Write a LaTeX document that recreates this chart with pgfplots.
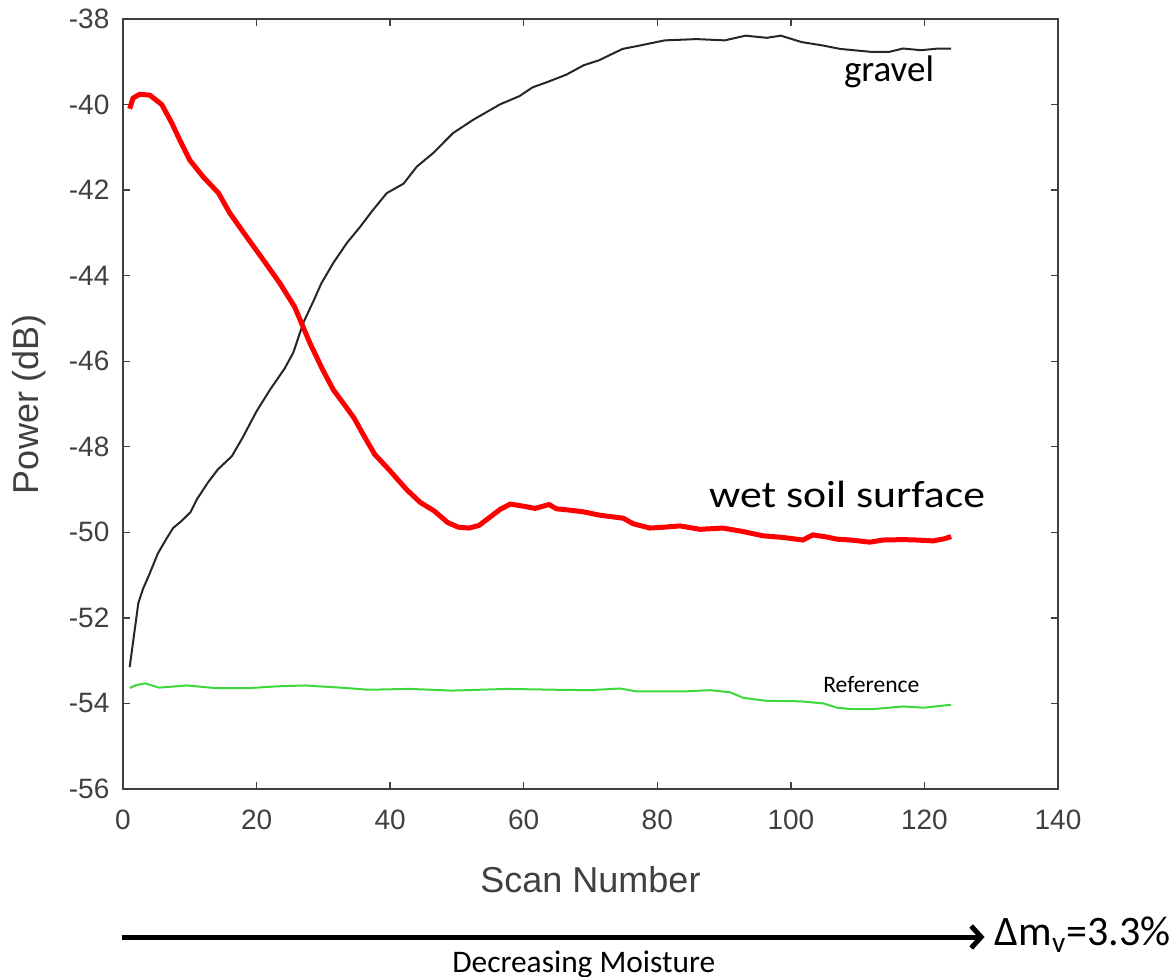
\documentclass[border=0pt]{standalone}
\usepackage{fontspec}
\setmainfont{Liberation Sans}
\newfontfamily\calibri{Carlito}
\usepackage{pgfplots}
\pgfplotsset{compat=1.18}
\usetikzlibrary{calc,arrows.meta}
\definecolor{axgray}{HTML}{404040}
\definecolor{refgreen}{HTML}{3CD83C}

\begin{document}
\begin{tikzpicture}
\begin{axis}[
    name=ax,
    scale only axis,
    width=467.5pt, height=385pt,
    xmin=0, xmax=140, ymin=-56, ymax=-38,
    xtick={0,20,...,140}, ytick={-56,-54,...,-38},
    tick align=inside,
    major tick length=3.5pt,
    axis line style={axgray, line width=0.7pt},
    tick style={axgray, line width=0.7pt},
    /pgf/number format/assume math mode=true,
    ticklabel style={font=\fontsize{14}{16}\selectfont, text=axgray},
    xticklabel style={yshift=-7pt},
    yticklabel style={xshift=-3.3pt},
    xlabel={Scan Number},
    ylabel={Power (dB)},
    label style={font=\fontsize{18}{20}\selectfont, text=axgray},
    xlabel style={at={(axis description cs:0.5,0)}, anchor=center, yshift=-45.5pt},
    ylabel style={at={(axis description cs:0,0.5)}, anchor=center, yshift=47pt},
    clip=false,
]
% gravel
\addplot[black!85, line width=1pt] coordinates {
(1,-53.15)(2.3,-51.65)(3,-51.32)(3.9,-51.0)(5.2,-50.5)(6.5,-50.15)(7.5,-49.9)
(8.8,-49.73)(10.1,-49.53)(11.1,-49.22)(12.7,-48.84)(14.2,-48.53)(16.3,-48.22)
(17.9,-47.79)(20,-47.17)(22,-46.67)(24.2,-46.17)(25.5,-45.8)(27,-45.1)
(28.5,-44.6)(29.7,-44.18)(31.5,-43.7)(33.5,-43.24)(35.5,-42.86)(37.4,-42.47)
(39.5,-42.07)(42,-41.85)(44,-41.45)(46.4,-41.14)(49.4,-40.67)(52.4,-40.36)
(56.4,-40.0)(59.4,-39.8)(61.3,-39.6)(63.6,-39.47)(66.4,-39.3)(69,-39.08)
(71.2,-38.97)(74.8,-38.7)(77.4,-38.62)(81.1,-38.5)(85.9,-38.47)(90.1,-38.5)
(93.2,-38.39)(96.4,-38.44)(98.5,-38.39)(101.6,-38.54)(104.8,-38.62)
(107.4,-38.7)(112.1,-38.77)(114.7,-38.77)(116.8,-38.69)(119.5,-38.73)
(122.1,-38.69)(124,-38.69)
};
% wet soil surface
\addplot[red, line width=2.5pt] coordinates {
(1,-40.1)(1.5,-39.85)(2.5,-39.76)(4,-39.78)(5,-39.9)(5.8,-40.0)(7.3,-40.43)
(8.5,-40.83)(10,-41.3)(12,-41.69)(14.3,-42.07)(16,-42.54)(18.5,-43.09)
(21,-43.63)(23.5,-44.18)(25.7,-44.73)(26.7,-45.1)(28,-45.58)(29.9,-46.2)
(31.5,-46.67)(33.5,-47.09)(34.6,-47.33)(36.1,-47.75)(37.7,-48.18)(39.8,-48.53)
(42.4,-48.99)(44.5,-49.3)(46.6,-49.5)(48.6,-49.77)(50.2,-49.88)(51.8,-49.9)
(53.3,-49.84)(54.9,-49.65)(56.5,-49.46)(58,-49.34)(59.6,-49.38)(61.7,-49.44)
(63.8,-49.35)(64.9,-49.45)(66.8,-49.48)(68.9,-49.52)(71.4,-49.6)(74.9,-49.67)
(76.4,-49.8)(78.9,-49.9)(81,-49.88)(83.4,-49.85)(86.4,-49.93)(89.8,-49.9)
(92.8,-49.98)(95.8,-50.08)(98.8,-50.12)(101.8,-50.18)(103.3,-50.06)
(105.4,-50.11)(106.9,-50.16)(109,-50.18)(111.8,-50.23)(113.8,-50.18)
(116.8,-50.17)(118.8,-50.18)(121.3,-50.2)(123,-50.15)(124,-50.1)
};
% reference
\addplot[refgreen, line width=1pt] coordinates {
(1,-53.64)(2,-53.57)(3.3,-53.53)(5.4,-53.63)(9.6,-53.58)(13.7,-53.64)
(19,-53.64)(23.1,-53.6)(27.3,-53.58)(33.5,-53.64)(36.7,-53.68)(42.9,-53.66)
(49.2,-53.7)(57.5,-53.66)(64.8,-53.68)(70,-53.69)(74.4,-53.65)(76.9,-53.72)
(83.9,-53.72)(87.9,-53.69)(90.9,-53.74)(92.9,-53.87)(96.4,-53.94)
(101.4,-53.95)(104.9,-54.0)(106.9,-54.1)(108.9,-54.13)(112.4,-54.13)
(116.9,-54.07)(119.9,-54.1)(124,-54.03)
};
\node[anchor=base west, inner sep=0, font=\calibri\fontsize{18.5}{20}\selectfont] at (axis cs:107.9,-39.47) {gravel};
\node[anchor=base west, inner sep=0, xscale=1.15, font=\calibri\fontsize{19}{21}\selectfont] at (axis cs:87.7,-49.41) {wet soil surface};
\node[anchor=base west, inner sep=0, font=\calibri\fontsize{11.8}{13}\selectfont] at (axis cs:104.8,-53.75) {Reference};
\draw[line width=2.5pt, -{Straight Barb[length=5pt,width=11pt]}] (axis cs:-0.15,-59.46) -- (axis cs:129.0,-59.46);
\node[anchor=base west, inner sep=0, font=\calibri\fontsize{21}{23}\selectfont] at (axis cs:130.5,-59.67) {Δm\textsubscript{v}=3.3\%};
\node[anchor=base west, inner sep=0, font=\calibri\fontsize{15.7}{17}\selectfont] at (axis cs:49.25,-60.28) {Decreasing Moisture};
\end{axis}
\pgfresetboundingbox
\path ($(ax.south west)+(-61.5pt,-94pt)$) rectangle ($(ax.north east)+(59pt,9.5pt)$);
\end{tikzpicture}
\end{document}
